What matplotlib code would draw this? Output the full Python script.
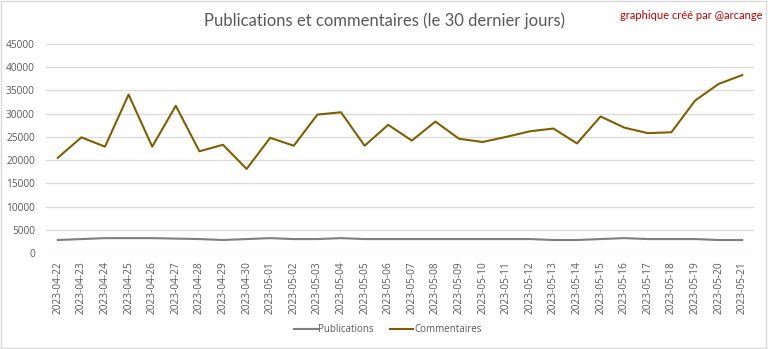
import matplotlib.pyplot as plt
from matplotlib.patches import Rectangle

dates = ["2023-04-22", "2023-04-23", "2023-04-24", "2023-04-25", "2023-04-26",
         "2023-04-27", "2023-04-28", "2023-04-29", "2023-04-30", "2023-05-01",
         "2023-05-02", "2023-05-03", "2023-05-04", "2023-05-05", "2023-05-06",
         "2023-05-07", "2023-05-08", "2023-05-09", "2023-05-10", "2023-05-11",
         "2023-05-12", "2023-05-13", "2023-05-14", "2023-05-15", "2023-05-16",
         "2023-05-17", "2023-05-18", "2023-05-19", "2023-05-20", "2023-05-21"]

publications = [2800, 3000, 3200, 3200, 3200, 3100, 3000, 2800, 3000, 3200,
                3000, 3000, 3200, 3000, 3000, 3000, 3000, 3000, 3000, 3000,
                3000, 2800, 2800, 3000, 3200, 3000, 3000, 3000, 2800, 2800]

commentaires = [20500, 24900, 22900, 34100, 22900, 31700, 21900, 23300, 18100, 24800,
                23100, 29800, 30300, 23100, 27600, 24200, 28300, 24600, 23900, 25000,
                26200, 26800, 23600, 29400, 27000, 25800, 26000, 32800, 36400, 38300]

plt.rcParams['font.family'] = ['Open Sans', 'DejaVu Sans']

fig = plt.figure(figsize=(7.68, 3.49), dpi=100)
ax = fig.add_axes([46 / 768, 96 / 349, 708 / 768, 209 / 349])

x = range(len(dates))
ax.plot(x, publications, color='#7f7f7f', lw=1.5, label='Publications')
ax.plot(x, commentaires, color='#7f6000', lw=1.5, label='Commentaires')

ax.set_xlim(-0.5, len(dates) - 0.5)
ax.set_ylim(0, 45000)
ax.set_yticks(range(0, 45001, 5000))
ax.set_xticks(list(x))
ax.set_xticklabels(dates, rotation=90, fontsize=7.3, color='#595959')
ax.tick_params(axis='y', labelsize=7.3, colors='#595959', length=0, pad=8)
ax.tick_params(axis='x', length=0, pad=6)
ax.grid(axis='y', color='#d9d9d9', lw=0.9)
ax.set_axisbelow(True)
for s in ax.spines.values():
    s.set_visible(False)

fig.text(0.5, 0.94, 'Publications et commentaires (le 30 dernier jours)',
         ha='center', va='center', fontsize=12, color='#595959', family='Lato')
fig.text(0.993, 0.955, 'graphique créé par @arcange', ha='right', va='center',
         fontsize=8, color='#c00000', family='Lato')

fig.legend(loc='center', bbox_to_anchor=(0.505, 0.055), ncol=2, frameon=False,
           fontsize=7, labelcolor='#595959', handlelength=2.4, columnspacing=1.6,
           handletextpad=0.1)

fig.patches.append(Rectangle((0.001, 0.002), 0.997, 0.995, transform=fig.transFigure,
                             fill=False, edgecolor='#d9d9d9', lw=1))

fig.savefig('out.png', dpi=100)
